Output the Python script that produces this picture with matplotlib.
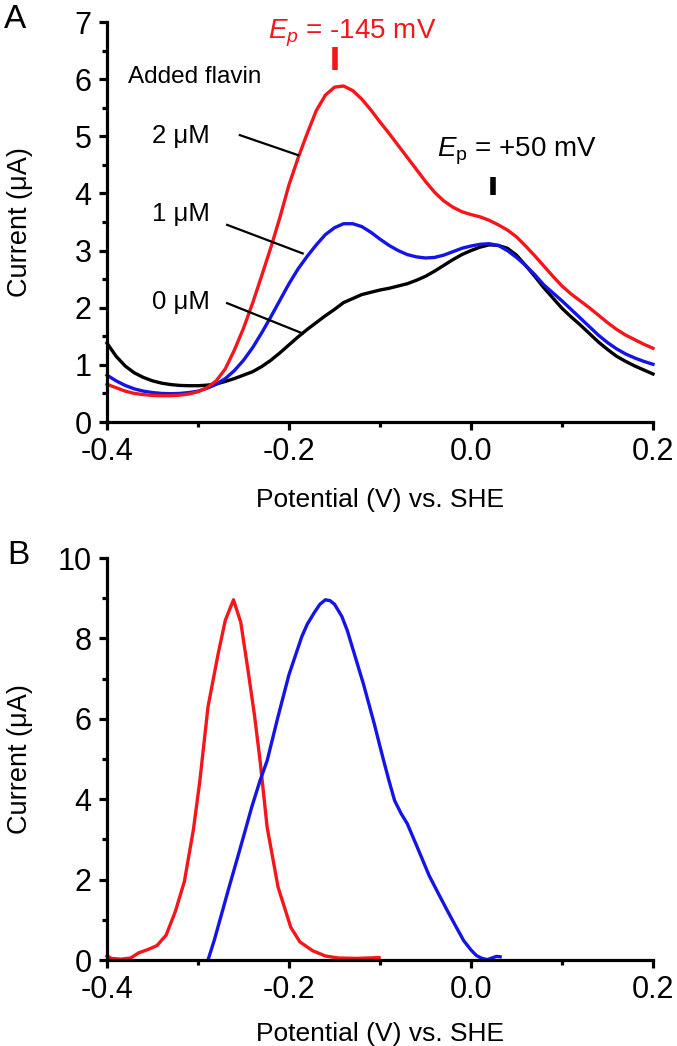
import matplotlib
matplotlib.use("Agg")
import matplotlib.pyplot as plt
from matplotlib.ticker import MultipleLocator

plt.rcParams["font.family"] = ["Liberation Sans", "DejaVu Sans"]
plt.rcParams["mathtext.fontset"] = "custom"
plt.rcParams["mathtext.rm"] = "Liberation Sans"
plt.rcParams["mathtext.it"] = "Liberation Sans:italic"
plt.rcParams["axes.unicode_minus"] = False

# panel A: voltammograms with added flavin (potential step 0.01 V)
potential_a = [round(-0.40 + 0.01 * i, 2) for i in range(61)]
current_0um = [1.38, 1.15, 0.98, 0.86, 0.78, 0.72, 0.68, 0.655, 0.64, 0.635,
               0.635, 0.645, 0.665, 0.71, 0.76, 0.82, 0.88, 0.97, 1.08, 1.21,
               1.35, 1.49, 1.62, 1.74, 1.86, 1.97, 2.09, 2.16, 2.23, 2.27,
               2.31, 2.34, 2.38, 2.42, 2.48, 2.55, 2.64, 2.74, 2.84, 2.93,
               3.00, 3.06, 3.10, 3.09, 3.04, 2.92, 2.74, 2.55, 2.35, 2.17,
               1.99, 1.84, 1.70, 1.55, 1.40, 1.27, 1.15, 1.06, 0.98, 0.91,
               0.84]
current_1um = [0.82, 0.72, 0.64, 0.58, 0.54, 0.515, 0.50, 0.495, 0.50, 0.515,
               0.54, 0.59, 0.66, 0.76, 0.90, 1.08, 1.30, 1.56, 1.84, 2.13,
               2.42, 2.68, 2.90, 3.10, 3.28, 3.40, 3.47, 3.47, 3.42, 3.32,
               3.20, 3.09, 3.00, 2.93, 2.89, 2.87, 2.88, 2.92, 2.98, 3.04,
               3.08, 3.11, 3.12, 3.09, 3.00, 2.88, 2.74, 2.58, 2.40, 2.26,
               2.12, 1.97, 1.82, 1.67, 1.52, 1.39, 1.28, 1.19, 1.12, 1.06,
               1.01]
current_2um = [0.66, 0.60, 0.54, 0.50, 0.48, 0.465, 0.46, 0.46, 0.47, 0.49,
               0.53, 0.60, 0.72, 0.93, 1.26, 1.64, 2.08, 2.56, 3.05, 3.58,
               4.15, 4.62, 5.05, 5.45, 5.72, 5.86, 5.88, 5.80, 5.65, 5.46,
               5.25, 5.05, 4.84, 4.63, 4.42, 4.21, 4.02, 3.87, 3.76, 3.68,
               3.63, 3.59, 3.53, 3.45, 3.36, 3.24, 3.08, 2.91, 2.73, 2.55,
               2.38, 2.24, 2.12, 2.00, 1.87, 1.74, 1.62, 1.52, 1.44, 1.36,
               1.29]

# panel B: deconvoluted peaks
potential_b_red = [-0.400, -0.395, -0.385, -0.374, -0.365, -0.355, -0.345, -0.335, -0.325, -0.315,
                   -0.305, -0.298, -0.289, -0.278, -0.270, -0.261, -0.253, -0.245, -0.238, -0.232,
                   -0.224, -0.212, -0.198, -0.188, -0.174, -0.160, -0.146, -0.125, -0.101]
current_b_red = [0.10, 0.04, 0.02, 0.05, 0.18, 0.26, 0.36, 0.62, 1.20, 1.95,
                 3.25, 4.45, 6.30, 7.60, 8.45, 8.96, 8.40, 7.20, 6.10, 5.00,
                 3.30, 1.81, 0.81, 0.45, 0.23, 0.10, 0.05, 0.04, 0.06]
potential_b_blue = [-0.289, -0.282, -0.274, -0.266, -0.2575, -0.249, -0.241, -0.232, -0.224, -0.212,
                    -0.200, -0.186, -0.180, -0.172, -0.166, -0.160, -0.155, -0.150, -0.142, -0.136,
                    -0.130, -0.124, -0.118, -0.112, -0.106, -0.101, -0.096, -0.090, -0.084, -0.077,
                    -0.070, -0.058, -0.046, -0.036, -0.027, -0.017, -0.008, 0.000, 0.006, 0.012,
                    0.018, 0.023, 0.028, 0.032]
current_b_blue = [0.00, 0.50, 1.15, 1.80, 2.47, 3.15, 3.80, 4.45, 4.96, 6.06,
                  7.10, 8.04, 8.35, 8.65, 8.85, 8.96, 8.94, 8.85, 8.55, 8.20,
                  7.75, 7.30, 6.85, 6.35, 5.85, 5.40, 4.96, 4.45, 3.97, 3.65,
                  3.39, 2.75, 2.10, 1.66, 1.27, 0.85, 0.48, 0.25, 0.11, 0.04,
                  0.01, 0.05, 0.09, 0.08]

RED = "#f5161b"
BLUE = "#1414e6"
W, H = 677, 1046

fig = plt.figure(figsize=(W / 100, H / 100), dpi=100)
ax1 = fig.add_axes([107 / W, 1 - 422 / H, 546 / W, 400 / H])
ax2 = fig.add_axes([107 / W, 1 - 960 / H, 546 / W, 402 / H])


def style_axes(ax, ymax, ymajor, yminor):
    for side in ("top", "right"):
        ax.spines[side].set_visible(False)
    for side in ("left", "bottom"):
        ax.spines[side].set_linewidth(2.3)
        ax.spines[side].set_capstyle("projecting")
    ax.set_xlim(-0.4, 0.2)
    ax.set_ylim(0, ymax)
    ax.xaxis.set_major_locator(MultipleLocator(0.2))
    ax.xaxis.set_minor_locator(MultipleLocator(0.1))
    ax.yaxis.set_major_locator(MultipleLocator(ymajor))
    ax.yaxis.set_minor_locator(MultipleLocator(yminor))
    ax.xaxis.set_major_formatter(plt.FuncFormatter(lambda v, p: f"{v:.1f}"))
    ax.tick_params(which="major", direction="out", length=6, width=2.3,
                   labelsize=22, pad=5)
    ax.tick_params(which="minor", direction="out", length=3.5, width=2.3)
    ax.set_xlabel("Potential (V) vs. SHE", fontsize=19)
    ax.set_ylabel("Current (μA)", fontsize=19.5)
    ax.yaxis.set_label_coords(-0.135, 0.5)


style_axes(ax1, 7, 1, 0.5)
style_axes(ax2, 10, 2, 1)
ax1.xaxis.set_label_coords(0.5, -0.165)
ax2.xaxis.set_label_coords(0.5, -0.155)

ax1.plot(potential_a, current_0um, color="black", lw=2.4, clip_on=False)
ax1.plot(potential_a, current_1um, color=BLUE, lw=2.4, clip_on=False)
ax1.plot(potential_a, current_2um, color=RED, lw=2.4, clip_on=False)

ax1.text(-0.377, 6.04, "Added flavin", fontsize=17.5, va="center", ha="left")
ax1.text(-0.287, 5.0, "2 μM", fontsize=18.5, va="center", ha="right")
ax1.text(-0.287, 3.64, "1 μM", fontsize=18.5, va="center", ha="right")
ax1.text(-0.287, 2.10, "0 μM", fontsize=18.5, va="center", ha="right")
ax1.plot([-0.254, -0.190], [5.02, 4.67], color="black", lw=1.6)
ax1.plot([-0.268, -0.185], [3.45, 2.95], color="black", lw=1.6)
ax1.plot([-0.268, -0.185], [2.08, 1.55], color="black", lw=1.6)

ax1.text(-0.223, 6.80, "$E_p$ = -145 mV", color=RED, fontsize=20,
         va="center", ha="left")
ax1.plot([-0.1495, -0.1495], [6.16, 6.56], color=RED, lw=4, solid_capstyle="butt")
ax1.text(-0.037, 4.73, r"$E_\mathrm{p}$ = +50 mV", color="black", fontsize=20,
         va="center", ha="left")
ax1.plot([0.024, 0.024], [3.97, 4.29], color="black", lw=4, solid_capstyle="butt")

ax2.plot(potential_b_red, current_b_red, color=RED, lw=2.4, clip_on=False)
ax2.plot(potential_b_blue, current_b_blue, color=BLUE, lw=2.4, clip_on=False)

fig.text(15 / W, 1 - 19 / H, "A", fontsize=24, ha="center", va="center")
fig.text(18 / W, 1 - 556 / H, "B", fontsize=24, ha="center", va="center")

fig.savefig("out.png", dpi=100)
